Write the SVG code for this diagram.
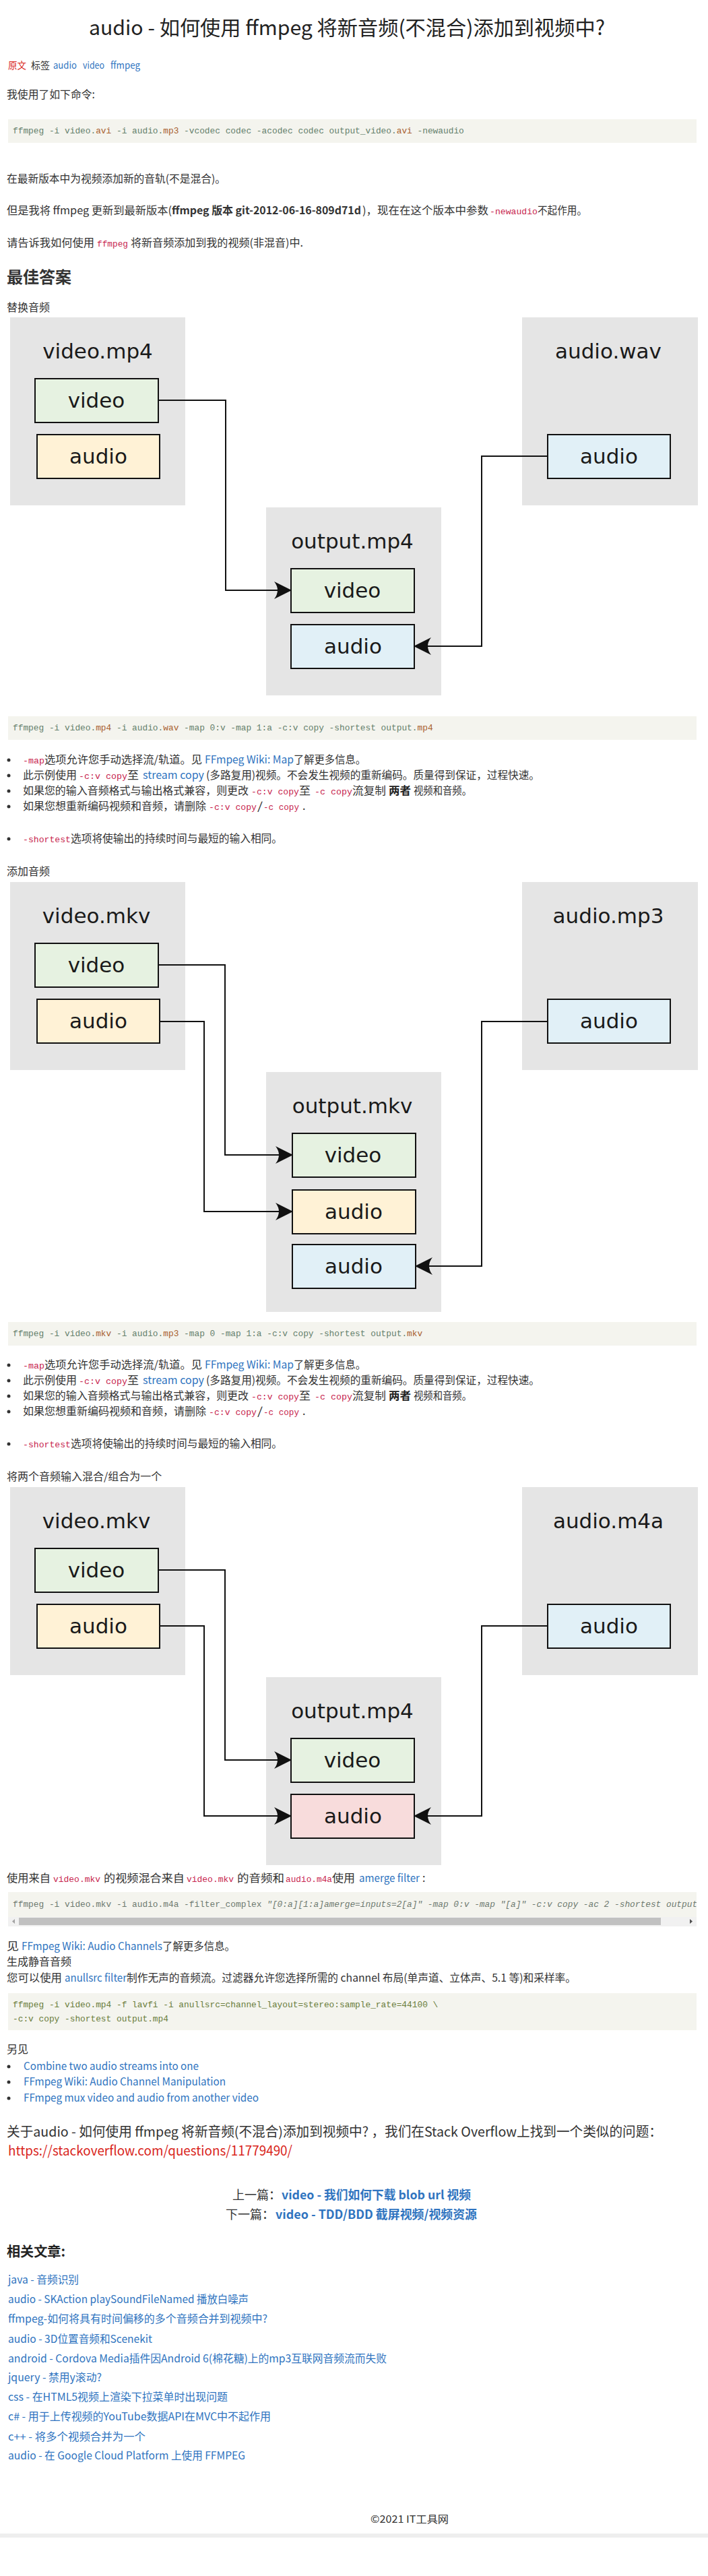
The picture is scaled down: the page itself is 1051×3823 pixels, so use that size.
<svg xmlns="http://www.w3.org/2000/svg" width="1051" height="3823" viewBox="0 0 1051 3823">
<style>
text{font-family:"Noto Sans CJK SC","Liberation Sans",sans-serif;font-size:16px;fill:#333}
.ttl{font-size:30px;fill:#222}
.sm{font-size:14px}
.lk{fill:#2f74c0}
.red{fill:#d9261c}
.pk{font-family:"Liberation Mono","DejaVu Sans Mono",monospace;font-size:13px;fill:#c7254e}
.cd{font-family:"Liberation Mono","DejaVu Sans Mono",monospace;font-size:12.83px;fill:#64806c}
.ext{fill:#a8602f}
.bd{font-weight:bold}
.dl{font-family:"DejaVu Sans",sans-serif;font-size:31px;fill:#1a1a1a;text-anchor:middle}
.cont{fill:#e5e5e5}
.bx{stroke:#111;stroke-width:2}
.gr{fill:#e6f2e1}.ye{fill:#fff2d6}.bl{fill:#e1f0f7}.pi{fill:#f8dcdc}
.cb{fill:#f4f4ee}
.con{fill:none;stroke:#111;stroke-width:2}
.dot{fill:#333}
</style>
<defs>
<marker id="ah" markerUnits="userSpaceOnUse" markerWidth="30" markerHeight="30" viewBox="-26 -15 30 30" refX="0" refY="0" orient="auto">
<path d="M2,0 L-24,-13 Q-14,0 -24,13 Z" fill="#111"/>
</marker>
<clipPath id="clip4"><rect x="12" y="2808" width="1022" height="51"/></clipPath>
</defs>
<rect width="1051" height="3823" fill="#fff"/>

<!-- header -->
<text class="ttl" x="132" y="52" textLength="766" lengthAdjust="spacingAndGlyphs">audio - 如何使用 ffmpeg 将新音频(不混合)添加到视频中?</text>
<text class="sm red" x="12" y="102" textLength="27" lengthAdjust="spacingAndGlyphs">原文</text>
<text class="sm" x="46" y="102" textLength="28" lengthAdjust="spacingAndGlyphs">标签</text>
<text class="sm lk" x="79" y="102" textLength="35" lengthAdjust="spacingAndGlyphs">audio</text>
<text class="sm lk" x="123" y="102" textLength="32" lengthAdjust="spacingAndGlyphs">video</text>
<text class="sm lk" x="164" y="102" textLength="44" lengthAdjust="spacingAndGlyphs">ffmpeg</text>
<text x="10" y="146" textLength="131" lengthAdjust="spacingAndGlyphs">我使用了如下命令:</text>
<rect class="cb" x="12" y="177" width="1022" height="35"/>
<text class="cd" x="19" y="198">ffmpeg -i video.<tspan class="ext">avi</tspan> -i audio.<tspan class="ext">mp3</tspan> -vcodec codec -acodec codec output_video.<tspan class="ext">avi</tspan> -newaudio</text>
<text x="10" y="271" textLength="325" lengthAdjust="spacingAndGlyphs">在最新版本中为视频添加新的音轨(不是混合)。</text>
<text x="10" y="318" textLength="245" lengthAdjust="spacingAndGlyphs">但是我将 ffmpeg 更新到最新版本( </text>
<text class="bd" x="255" y="318" textLength="281" lengthAdjust="spacingAndGlyphs">ffmpeg 版本 git-2012-06-16-809d71d</text>
<text x="538" y="318" textLength="187" lengthAdjust="spacingAndGlyphs">)，现在在这个版本中参数</text>
<text class="pk" x="727" y="318" textLength="71" lengthAdjust="spacingAndGlyphs">-newaudio</text>
<text x="798" y="318" textLength="73" lengthAdjust="spacingAndGlyphs">不起作用。</text>
<text x="10" y="366" textLength="130" lengthAdjust="spacingAndGlyphs">请告诉我如何使用</text>
<text class="pk" x="144" y="366" textLength="46" lengthAdjust="spacingAndGlyphs">ffmpeg</text>
<text x="194" y="366" textLength="256" lengthAdjust="spacingAndGlyphs">将新音频添加到我的视频(非混音)中.</text>
<text class="bd" x="10" y="420" style="font-size:24px" textLength="96" lengthAdjust="spacingAndGlyphs">最佳答案</text>
<text x="10" y="462" textLength="64" lengthAdjust="spacingAndGlyphs">替换音频</text>

<!-- diagram 1 -->
<g id="d1-video-mp4"><rect class="cont" x="15" y="471" width="260" height="279"/><text class="dl" x="145" y="532">video.mp4</text></g>
<g id="d1-video-mp4-video"><rect class="bx gr" x="52" y="562" width="183" height="65"/><text class="dl" x="143" y="605">video</text></g>
<g id="d1-video-mp4-audio"><rect class="bx ye" x="55" y="645" width="182" height="65"/><text class="dl" x="146" y="688">audio</text></g>
<g id="d1-audio-wav"><rect class="cont" x="775" y="471" width="261" height="279"/><text class="dl" x="903" y="532">audio.wav</text></g>
<g id="d1-audio-wav-audio"><rect class="bx bl" x="813" y="645" width="182" height="65"/><text class="dl" x="904" y="688">audio</text></g>
<g id="d1-output-mp4"><rect class="cont" x="395" y="753" width="260" height="279"/><text class="dl" x="523" y="814">output.mp4</text></g>
<g id="d1-output-video"><rect class="bx gr" x="432" y="844" width="183" height="65"/><text class="dl" x="523" y="887">video</text></g>
<g id="d1-output-audio"><rect class="bx bl" x="432" y="927" width="183" height="65"/><text class="dl" x="524" y="970">audio</text></g>
<g id="d1-connectors">
<path class="con" d="M235,594 H335 V876 H431" marker-end="url(#ah)"/>
<path class="con" d="M813,677 H715 V959 H616" marker-end="url(#ah)"/>
</g>

<rect class="cb" x="12" y="1063" width="1022" height="35"/>
<text class="cd" x="19" y="1084">ffmpeg -i video.<tspan class="ext">mp4</tspan> -i audio.<tspan class="ext">wav</tspan> -map 0:v -map 1:a -c:v copy -shortest output.<tspan class="ext">mp4</tspan></text>

<!-- bullets 1 -->
<g id="bullets1">
<circle class="dot" cx="13" cy="1128" r="2.5"/><circle class="dot" cx="13" cy="1151" r="2.5"/><circle class="dot" cx="13" cy="1174" r="2.5"/><circle class="dot" cx="13" cy="1197" r="2.5"/><circle class="dot" cx="13" cy="1245" r="2.5"/>
<text class="pk" x="34" y="1133" textLength="32" lengthAdjust="spacingAndGlyphs">-map</text>
<text x="66" y="1133" textLength="234" lengthAdjust="spacingAndGlyphs">选项允许您手动选择流/轨道。见</text>
<text class="lk" x="304" y="1133" textLength="132" lengthAdjust="spacingAndGlyphs">FFmpeg Wiki: Map</text>
<text x="436" y="1133" textLength="107" lengthAdjust="spacingAndGlyphs">了解更多信息。</text>
<text x="34" y="1156" textLength="80" lengthAdjust="spacingAndGlyphs">此示例使用</text>
<text class="pk" x="117" y="1156" textLength="72" lengthAdjust="spacingAndGlyphs">-c:v copy</text>
<text x="189" y="1156" textLength="17" lengthAdjust="spacingAndGlyphs">至</text>
<text class="lk" x="212" y="1156">stream copy</text>
<text x="306" y="1156" textLength="495" lengthAdjust="spacingAndGlyphs">(多路复用)视频。不会发生视频的重新编码。质量得到保证，过程快速。</text>
<text x="34" y="1179" textLength="335" lengthAdjust="spacingAndGlyphs">如果您的输入音频格式与输出格式兼容，则更改</text>
<text class="pk" x="373" y="1179" textLength="71" lengthAdjust="spacingAndGlyphs">-c:v copy</text>
<text x="444" y="1179" textLength="17" lengthAdjust="spacingAndGlyphs">至</text>
<text class="pk" x="467" y="1179" textLength="56" lengthAdjust="spacingAndGlyphs">-c copy</text>
<text x="523" y="1179" textLength="50" lengthAdjust="spacingAndGlyphs">流复制</text>
<text class="bd" x="577" y="1179" style="fill:#222" textLength="33" lengthAdjust="spacingAndGlyphs">两者</text>
<text x="614" y="1179" textLength="86" lengthAdjust="spacingAndGlyphs">视频和音频。</text>
<text x="34" y="1202" textLength="272" lengthAdjust="spacingAndGlyphs">如果您想重新编码视频和音频，请删除</text>
<text class="pk" x="310" y="1202" textLength="71" lengthAdjust="spacingAndGlyphs">-c:v copy</text>
<text x="382" y="1202" textLength="8" lengthAdjust="spacingAndGlyphs">/</text>
<text class="pk" x="391" y="1202" textLength="53" lengthAdjust="spacingAndGlyphs">-c copy</text>
<text x="449" y="1202">.</text>
<text class="pk" x="34" y="1250" textLength="71" lengthAdjust="spacingAndGlyphs">-shortest</text>
<text x="105" y="1250" textLength="314" lengthAdjust="spacingAndGlyphs">选项将使输出的持续时间与最短的输入相同。</text>
</g>

<text x="10" y="1299" textLength="64" lengthAdjust="spacingAndGlyphs">添加音频</text>

<!-- diagram 2 -->
<g id="d2-video-mkv"><rect class="cont" x="15" y="1309" width="260" height="279"/><text class="dl" x="143" y="1370">video.mkv</text></g>
<g id="d2-video-mkv-video"><rect class="bx gr" x="52" y="1400" width="183" height="65"/><text class="dl" x="143" y="1443">video</text></g>
<g id="d2-video-mkv-audio"><rect class="bx ye" x="55" y="1483" width="182" height="65"/><text class="dl" x="146" y="1526">audio</text></g>
<g id="d2-audio-mp3"><rect class="cont" x="775" y="1309" width="261" height="279"/><text class="dl" x="903" y="1370">audio.mp3</text></g>
<g id="d2-audio-mp3-audio"><rect class="bx bl" x="813" y="1483" width="182" height="65"/><text class="dl" x="904" y="1526">audio</text></g>
<g id="d2-output-mkv"><rect class="cont" x="395" y="1591" width="260" height="356"/><text class="dl" x="523" y="1652">output.mkv</text></g>
<g id="d2-output-video"><rect class="bx gr" x="434" y="1682" width="183" height="65"/><text class="dl" x="524" y="1725">video</text></g>
<g id="d2-output-audio1"><rect class="bx ye" x="434" y="1766" width="183" height="65"/><text class="dl" x="525" y="1809">audio</text></g>
<g id="d2-output-audio2"><rect class="bx bl" x="434" y="1847" width="183" height="65"/><text class="dl" x="525" y="1890">audio</text></g>
<g id="d2-connectors">
<path class="con" d="M235,1432 H334 V1714 H433" marker-end="url(#ah)"/>
<path class="con" d="M237,1516 H303 V1798 H433" marker-end="url(#ah)"/>
<path class="con" d="M813,1516 H715 V1879 H618" marker-end="url(#ah)"/>
</g>

<rect class="cb" x="12" y="1962" width="1022" height="35"/>
<text class="cd" x="19" y="1983">ffmpeg -i video.<tspan class="ext">mkv</tspan> -i audio.<tspan class="ext">mp3</tspan> -map 0 -map 1:a -c:v copy -shortest output.<tspan class="ext">mkv</tspan></text>

<!-- bullets 2 -->
<g id="bullets2">
<circle class="dot" cx="13" cy="2026" r="2.5"/><circle class="dot" cx="13" cy="2049" r="2.5"/><circle class="dot" cx="13" cy="2072" r="2.5"/><circle class="dot" cx="13" cy="2095" r="2.5"/><circle class="dot" cx="13" cy="2143" r="2.5"/>
<text class="pk" x="34" y="2031" textLength="32" lengthAdjust="spacingAndGlyphs">-map</text>
<text x="66" y="2031" textLength="234" lengthAdjust="spacingAndGlyphs">选项允许您手动选择流/轨道。见</text>
<text class="lk" x="304" y="2031" textLength="132" lengthAdjust="spacingAndGlyphs">FFmpeg Wiki: Map</text>
<text x="436" y="2031" textLength="107" lengthAdjust="spacingAndGlyphs">了解更多信息。</text>
<text x="34" y="2054" textLength="80" lengthAdjust="spacingAndGlyphs">此示例使用</text>
<text class="pk" x="117" y="2054" textLength="72" lengthAdjust="spacingAndGlyphs">-c:v copy</text>
<text x="189" y="2054" textLength="17" lengthAdjust="spacingAndGlyphs">至</text>
<text class="lk" x="212" y="2054">stream copy</text>
<text x="306" y="2054" textLength="495" lengthAdjust="spacingAndGlyphs">(多路复用)视频。不会发生视频的重新编码。质量得到保证，过程快速。</text>
<text x="34" y="2077" textLength="335" lengthAdjust="spacingAndGlyphs">如果您的输入音频格式与输出格式兼容，则更改</text>
<text class="pk" x="373" y="2077" textLength="71" lengthAdjust="spacingAndGlyphs">-c:v copy</text>
<text x="444" y="2077" textLength="17" lengthAdjust="spacingAndGlyphs">至</text>
<text class="pk" x="467" y="2077" textLength="56" lengthAdjust="spacingAndGlyphs">-c copy</text>
<text x="523" y="2077" textLength="50" lengthAdjust="spacingAndGlyphs">流复制</text>
<text class="bd" x="577" y="2077" style="fill:#222" textLength="33" lengthAdjust="spacingAndGlyphs">两者</text>
<text x="614" y="2077" textLength="86" lengthAdjust="spacingAndGlyphs">视频和音频。</text>
<text x="34" y="2100" textLength="272" lengthAdjust="spacingAndGlyphs">如果您想重新编码视频和音频，请删除</text>
<text class="pk" x="310" y="2100" textLength="71" lengthAdjust="spacingAndGlyphs">-c:v copy</text>
<text x="382" y="2100" textLength="8" lengthAdjust="spacingAndGlyphs">/</text>
<text class="pk" x="391" y="2100" textLength="53" lengthAdjust="spacingAndGlyphs">-c copy</text>
<text x="449" y="2100">.</text>
<text class="pk" x="34" y="2148" textLength="71" lengthAdjust="spacingAndGlyphs">-shortest</text>
<text x="105" y="2148" textLength="314" lengthAdjust="spacingAndGlyphs">选项将使输出的持续时间与最短的输入相同。</text>
</g>

<text x="10" y="2197">将两个音频输入混合/组合为一个</text>

<!-- diagram 3 -->
<g id="d3-video-mkv"><rect class="cont" x="15" y="2207" width="260" height="279"/><text class="dl" x="143" y="2268">video.mkv</text></g>
<g id="d3-video-mkv-video"><rect class="bx gr" x="52" y="2298" width="183" height="65"/><text class="dl" x="143" y="2341">video</text></g>
<g id="d3-video-mkv-audio"><rect class="bx ye" x="55" y="2381" width="182" height="65"/><text class="dl" x="146" y="2424">audio</text></g>
<g id="d3-audio-m4a"><rect class="cont" x="775" y="2207" width="261" height="279"/><text class="dl" x="903" y="2268">audio.m4a</text></g>
<g id="d3-audio-m4a-audio"><rect class="bx bl" x="813" y="2381" width="182" height="65"/><text class="dl" x="904" y="2424">audio</text></g>
<g id="d3-output-mp4"><rect class="cont" x="395" y="2489" width="260" height="279"/><text class="dl" x="523" y="2550">output.mp4</text></g>
<g id="d3-output-video"><rect class="bx gr" x="432" y="2580" width="183" height="65"/><text class="dl" x="523" y="2623">video</text></g>
<g id="d3-output-audio"><rect class="bx pi" x="432" y="2663" width="183" height="65"/><text class="dl" x="524" y="2706">audio</text></g>
<g id="d3-connectors">
<path class="con" d="M235,2330 H334 V2612 H431" marker-end="url(#ah)"/>
<path class="con" d="M237,2413 H303 V2695 H431" marker-end="url(#ah)"/>
<path class="con" d="M813,2413 H715 V2695 H616" marker-end="url(#ah)"/>
</g>

<text x="10" y="2793" textLength="65" lengthAdjust="spacingAndGlyphs">使用来自</text>
<text class="pk" x="79" y="2793" textLength="70" lengthAdjust="spacingAndGlyphs">video.mkv</text>
<text x="154" y="2793" textLength="120" lengthAdjust="spacingAndGlyphs">的视频混合来自</text>
<text class="pk" x="277" y="2793" textLength="70" lengthAdjust="spacingAndGlyphs">video.mkv</text>
<text x="352" y="2793" textLength="70" lengthAdjust="spacingAndGlyphs">的音频和</text>
<text class="pk" x="424" y="2793" textLength="69" lengthAdjust="spacingAndGlyphs">audio.m4a</text>
<text x="493" y="2793" textLength="34" lengthAdjust="spacingAndGlyphs">使用</text>
<text class="lk" x="533" y="2793" textLength="90" lengthAdjust="spacingAndGlyphs">amerge filter</text>
<text x="627" y="2793">:</text>

<rect class="cb" x="12" y="2808" width="1022" height="51"/>
<g clip-path="url(#clip4)">
<text class="cd" x="19" y="2830" style="fill:#6e7a70">ffmpeg -i video.mkv -i audio.m4a -filter_complex <tspan font-style="italic">"[0:a][1:a]amerge=inputs=2[a]" -map 0:v -map "[a]" -c:v copy -ac 2 -shortest output.mkv</tspan></text>
</g>
<rect x="12" y="2845" width="1022" height="14" fill="#f1f1f1"/>
<rect x="28" y="2846" width="953" height="11" fill="#c1c1c1"/>
<path d="M22,2848 L18,2851.5 L22,2855 Z" fill="#a3a3a3"/>
<path d="M1024,2848 L1028,2851.5 L1024,2855 Z" fill="#505050"/>

<text x="10" y="2894" textLength="18" lengthAdjust="spacingAndGlyphs">见</text>
<text class="lk" x="32" y="2894" textLength="209" lengthAdjust="spacingAndGlyphs">FFmpeg Wiki: Audio Channels</text>
<text x="241" y="2894" textLength="108" lengthAdjust="spacingAndGlyphs">了解更多信息。</text>
<text x="10" y="2917" textLength="96" lengthAdjust="spacingAndGlyphs">生成静音音频</text>
<text x="10" y="2941" textLength="82" lengthAdjust="spacingAndGlyphs">您可以使用</text>
<text class="lk" x="96" y="2941" textLength="92" lengthAdjust="spacingAndGlyphs">anullsrc filter</text>
<text x="188" y="2941" textLength="667" lengthAdjust="spacingAndGlyphs">制作无声的音频流。过滤器允许您选择所需的 channel 布局(单声道、立体声、5.1 等)和采样率。</text>

<rect class="cb" x="12" y="2958" width="1022" height="55"/>
<text class="cd" x="19" y="2979" style="fill:#6a7d3c">ffmpeg -i video.mp4 -f lavfi -i anullsrc=channel_layout=stereo:sample_rate=44100 \</text>
<text class="cd" x="19" y="3000" style="fill:#6a7d3c">-c:v copy -shortest output.mp4</text>

<text x="10" y="3047" textLength="32" lengthAdjust="spacingAndGlyphs">另见</text>
<g id="see-also">
<circle class="dot" cx="13" cy="3067" r="2.5"/><circle class="dot" cx="13" cy="3090" r="2.5"/><circle class="dot" cx="13" cy="3114" r="2.5"/>
<text class="lk" x="35" y="3072" textLength="260" lengthAdjust="spacingAndGlyphs">Combine two audio streams into one</text>
<text class="lk" x="35" y="3095" textLength="300" lengthAdjust="spacingAndGlyphs">FFmpeg Wiki: Audio Channel Manipulation</text>
<text class="lk" x="35" y="3119" textLength="349" lengthAdjust="spacingAndGlyphs">FFmpeg mux video and audio from another video</text>
</g>

<text x="10" y="3171" style="font-size:20px" textLength="973" lengthAdjust="spacingAndGlyphs">关于audio - 如何使用 ffmpeg 将新音频(不混合)添加到视频中? ，我们在Stack Overflow上找到一个类似的问题：</text>
<text class="red" x="12" y="3199" style="font-size:20px" textLength="422" lengthAdjust="spacingAndGlyphs">https://stackoverflow.com/questions/11779490/</text>

<text x="345" y="3264" style="font-size:18px" textLength="72" lengthAdjust="spacingAndGlyphs">上一篇：</text>
<text class="lk bd" x="418" y="3264" style="font-size:18px" textLength="281" lengthAdjust="spacingAndGlyphs">video - 我们如何下载 blob url 视频</text>
<text x="335" y="3293" style="font-size:18px" textLength="72" lengthAdjust="spacingAndGlyphs">下一篇：</text>
<text class="lk bd" x="409" y="3293" style="font-size:18px" textLength="299" lengthAdjust="spacingAndGlyphs">video - TDD/BDD 截屏视频/视频资源</text>

<text class="bd" x="10" y="3349" style="font-size:20px;fill:#222" textLength="87" lengthAdjust="spacingAndGlyphs">相关文章:</text>
<g id="related">
<text class="lk" x="12" y="3389" textLength="105" lengthAdjust="spacingAndGlyphs">java - 音频识别</text>
<text class="lk" x="12" y="3418" textLength="357" lengthAdjust="spacingAndGlyphs">audio - SKAction playSoundFileNamed 播放白噪声</text>
<text class="lk" x="12" y="3447" textLength="385" lengthAdjust="spacingAndGlyphs">ffmpeg-如何将具有时间偏移的多个音频合并到视频中?</text>
<text class="lk" x="12" y="3477" textLength="214" lengthAdjust="spacingAndGlyphs">audio - 3D位置音频和Scenekit</text>
<text class="lk" x="12" y="3506" textLength="562" lengthAdjust="spacingAndGlyphs">android - Cordova Media插件因Android 6(棉花糖)上的mp3互联网音频流而失败</text>
<text class="lk" x="12" y="3534" textLength="139" lengthAdjust="spacingAndGlyphs">jquery - 禁用y滚动?</text>
<text class="lk" x="12" y="3563" textLength="326" lengthAdjust="spacingAndGlyphs">css - 在HTML5视频上渲染下拉菜单时出现问题</text>
<text class="lk" x="12" y="3592" textLength="390" lengthAdjust="spacingAndGlyphs">c# - 用于上传视频的YouTube数据API在MVC中不起作用</text>
<text class="lk" x="12" y="3622" textLength="204" lengthAdjust="spacingAndGlyphs">c++ - 将多个视频合并为一个</text>
<text class="lk" x="12" y="3650" textLength="352" lengthAdjust="spacingAndGlyphs">audio - 在 Google Cloud Platform 上使用 FFMPEG</text>
</g>

<text x="550" y="3744" style="font-size:15px" textLength="116" lengthAdjust="spacingAndGlyphs">©2021 IT工具网</text>
<rect x="0" y="3760" width="1051" height="6" fill="#eeeeee"/>
</svg>
